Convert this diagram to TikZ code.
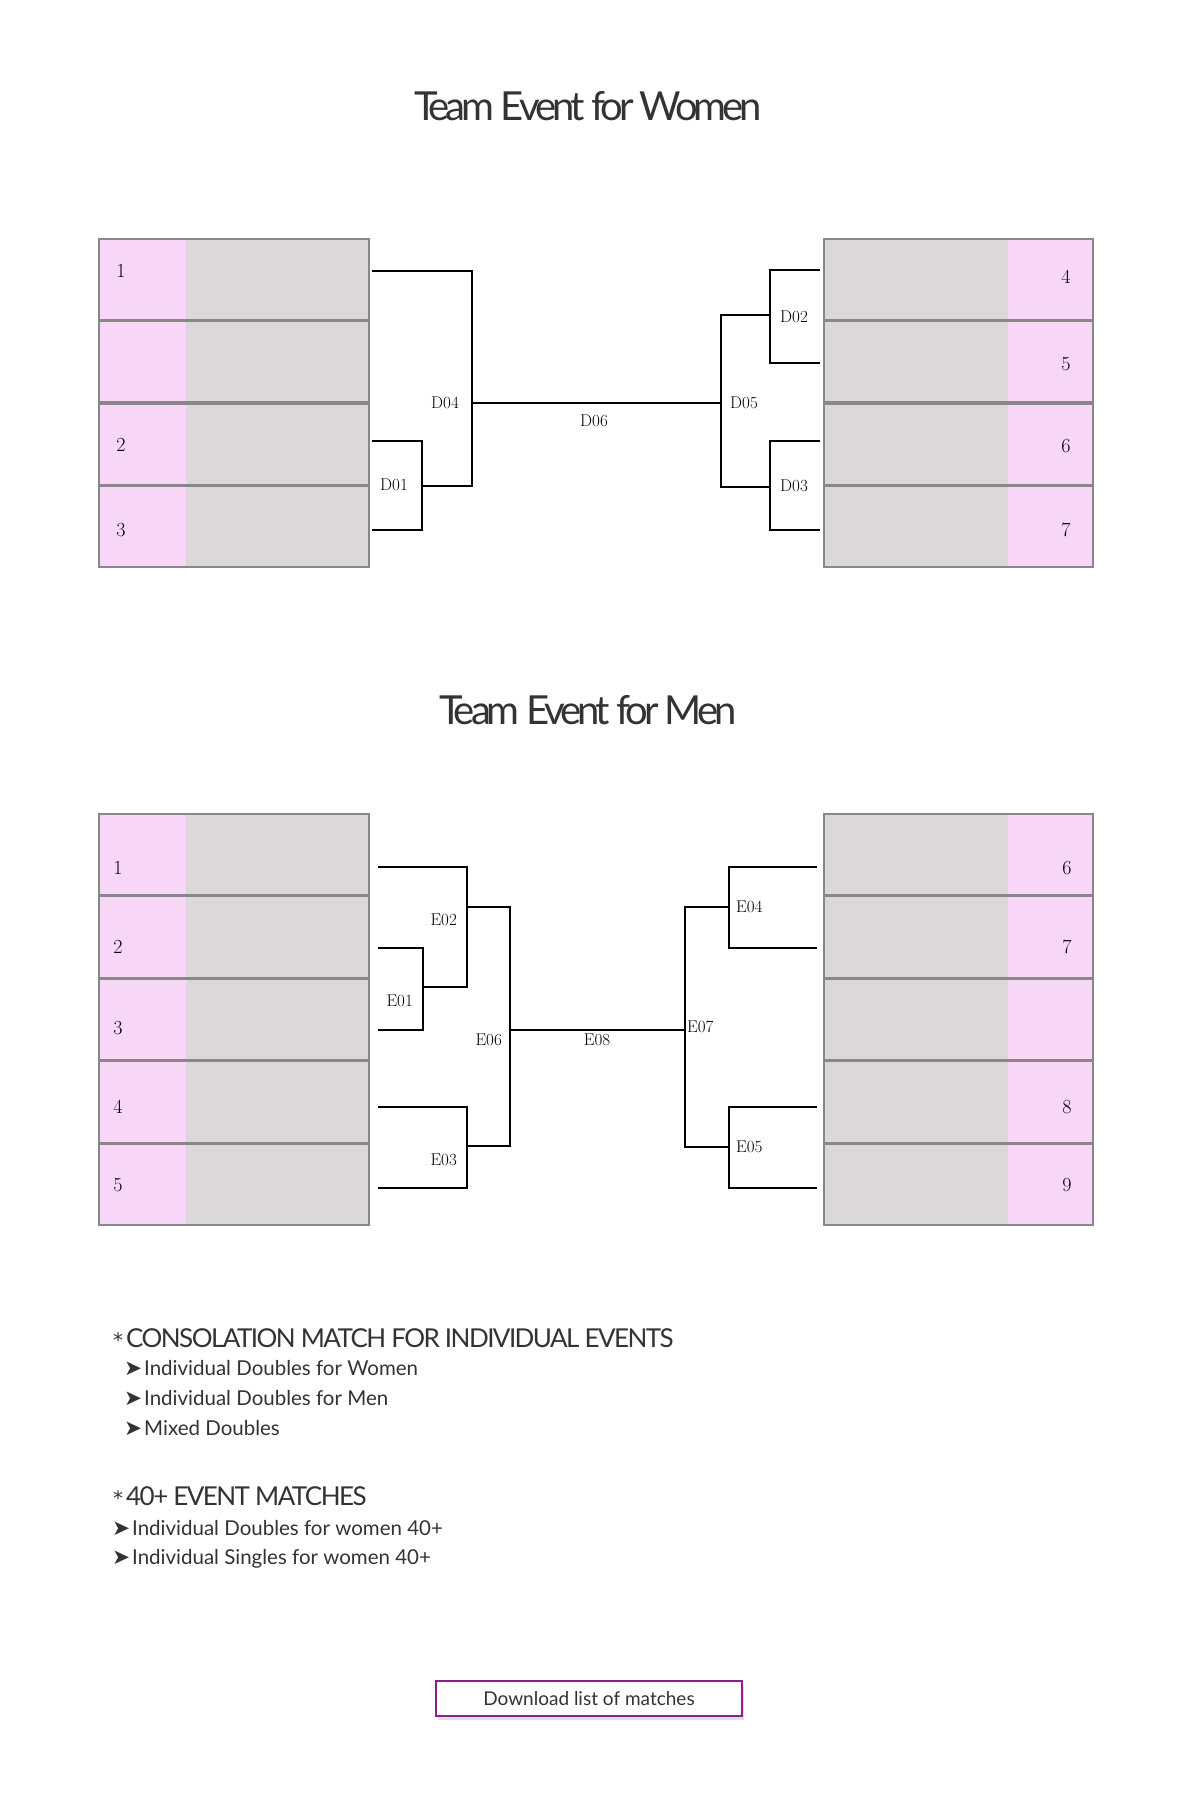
\documentclass[tikz,border=0pt]{standalone}
\usepackage{fontspec}
\setsansfont{Lato}
\newfontfamily\symfont{DejaVu Sans}
\newfontfamily\tightsans[LetterSpace=-10]{Lato}
\newfontfamily\notesans[LetterSpace=-6]{Lato}
\usepackage{tikz}
\usetikzlibrary{positioning,shadows}
\usepackage{xcolor}
\definecolor{seedpink}{HTML}{F8D6F8}
\definecolor{slotgray}{HTML}{DBD7DB}
\definecolor{framegray}{HTML}{888888}
\definecolor{inkgray}{HTML}{333333}
\definecolor{buttonpurple}{HTML}{8E1E8E}
\newcommand{\notestar}{{\symfont\fontsize{20}{20}\selectfont *}\hspace{3pt}}
\newcommand{\itemarrow}{\makebox[20pt][l]{\symfont\fontsize{21.5}{21.5}\selectfont ➤}}
\tikzset{
  heading/.style={font=\tightsans\fontsize{40}{40}\selectfont, text=inkgray, inner sep=0pt, anchor=base},
  seednum/.style={font=\fontsize{20}{20}\selectfont, inner sep=0pt},
  matchlbl/.style={font=\fontsize{17}{17}\selectfont, inner sep=0pt},
  bracket/.style={draw=black, line width=1.9pt},
  slotframe/.style={draw=framegray, line width=1.6pt},
  note/.style={font=\notesans\fontsize{26}{26}\selectfont, text=inkgray, inner sep=0pt, anchor=base west},
  noteitem/.style={font=\sffamily\fontsize{20.5}{20.5}\selectfont, text=inkgray, inner sep=0pt, anchor=base west},
  dlbutton/.style={draw=buttonpurple, line width=1.8pt, fill=white, minimum width=306pt, minimum height=35pt,
    font=\sffamily\fontsize{19}{19}\selectfont, text=inkgray,
    drop shadow={shadow xshift=2pt, shadow yshift=-4pt, opacity=0.25}}
}

\begin{document}
\begin{tikzpicture}[x=1pt,y=-1pt]
  \useasboundingbox (0,0) rectangle (1177,1800);
  \fill[white] (0,0) rectangle (1177,1800);

  % team event for women
  \node[heading] (womentitle) at (588,120) {Team Event for Women};
  \foreach \y in {238,320.5,403,485.5} {
    \fill[slotgray] (98,\y) rectangle (370,\y+82.5);
    \fill[seedpink] (98,\y) rectangle (186,\y+82.5);
    \draw[slotframe] (98.8,\y+0.8) rectangle (369.2,\y+81.7);
    \fill[slotgray] (823,\y) rectangle (1094,\y+82.5);
    \fill[seedpink] (1008,\y) rectangle (1094,\y+82.5);
    \draw[slotframe] (823.8,\y+0.8) rectangle (1093.2,\y+81.7);
  }
  \foreach \t/\y in {1/271,2/445,3/530} \node[seednum] (wseed\t) at (121,\y) {\t};
  \foreach \t/\y in {4/277,5/364,6/446,7/530} \node[seednum] (wseed\t) at (1066,\y) {\t};

  \coordinate (w1) at (372,271);
  \coordinate (w2) at (372,441);
  \coordinate (w3) at (372,530);
  \coordinate (w4) at (820,270);
  \coordinate (w5) at (820,363);
  \coordinate (w6) at (820,441);
  \coordinate (w7) at (820,530);
  \coordinate (d01) at (422,486);
  \coordinate (d04) at (472,403);
  \coordinate (d02) at (770,315);
  \coordinate (d03) at (770,487);
  \coordinate (d05) at (721,403);
  \draw[bracket] (w2) -| (d01) |- (w3);
  \draw[bracket] (w1) -| (d04) |- (d01);
  \draw[bracket] (w4) -| (d02) |- (w5);
  \draw[bracket] (w6) -| (d03) |- (w7);
  \draw[bracket] (d02) -| (d05) |- (d03);
  \draw[bracket] (d04) -- (d05);
  \node[matchlbl, anchor=east] at (408,485) {D01};
  \node[matchlbl, anchor=east] at (459,403) {D04};
  \node[matchlbl, anchor=west] at (780,317) {D02};
  \node[matchlbl, anchor=west] at (780,486) {D03};
  \node[matchlbl, anchor=west] at (730,403) {D05};
  \node[matchlbl] at (594,421) {D06};

  % team event for men
  \node[heading] (mentitle) at (588,724) {Team Event for Men};
  \foreach \y in {813,895.6,978.2,1060.8,1143.4} {
    \fill[slotgray] (98,\y) rectangle (370,\y+82.6);
    \fill[seedpink] (98,\y) rectangle (186,\y+82.6);
    \draw[slotframe] (98.8,\y+0.8) rectangle (369.2,\y+81.8);
    \fill[slotgray] (823,\y) rectangle (1094,\y+82.6);
    \fill[seedpink] (1008,\y) rectangle (1094,\y+82.6);
    \draw[slotframe] (823.8,\y+0.8) rectangle (1093.2,\y+81.8);
  }
  \foreach \t/\y in {1/868,2/947,3/1028,4/1107,5/1185} \node[seednum] (mseed\t) at (118,\y) {\t};
  \foreach \t/\y in {6/868,7/947,8/1107,9/1185} \node[seednum] (mseed\t) at (1067,\y) {\t};

  \coordinate (m1) at (378,867);
  \coordinate (m2) at (378,948);
  \coordinate (m3) at (378,1030);
  \coordinate (m4) at (378,1107);
  \coordinate (m5) at (378,1188);
  \coordinate (m6) at (817,867);
  \coordinate (m7) at (817,948);
  \coordinate (m8) at (817,1107);
  \coordinate (m9) at (817,1188);
  \coordinate (e01) at (423,987);
  \coordinate (e02) at (467,907);
  \coordinate (e03) at (467,1146);
  \coordinate (e06) at (510,1030);
  \coordinate (e07) at (685,1030);
  \coordinate (e04) at (729,907);
  \coordinate (e05) at (729,1147);
  \draw[bracket] (m2) -| (e01) |- (m3);
  \draw[bracket] (m1) -| (e02) |- (e01);
  \draw[bracket] (m4) -| (e03) |- (m5);
  \draw[bracket] (e02) -| (e06) |- (e03);
  \draw[bracket] (m6) -| (e04) |- (m7);
  \draw[bracket] (m8) -| (e05) |- (m9);
  \draw[bracket] (e04) -| (e07) |- (e05);
  \draw[bracket] (e06) -- (e07);
  \node[matchlbl, anchor=east] at (413,1001) {E01};
  \node[matchlbl, anchor=east] at (457,920) {E02};
  \node[matchlbl, anchor=east] at (457,1160) {E03};
  \node[matchlbl, anchor=east] at (502,1040) {E06};
  \node[matchlbl, anchor=west] at (736,907) {E04};
  \node[matchlbl, anchor=west] at (736,1147) {E05};
  \node[matchlbl, anchor=west] at (687,1027) {E07};
  \node[matchlbl] at (597,1040) {E08};

  % notes
  \node[note] (consol) at (113,1347) {\notestar CONSOLATION MATCH FOR INDIVIDUAL EVENTS};
  \node[noteitem] (consol1) at (124,1375) {\itemarrow Individual Doubles for Women};
  \node[noteitem] (consol2) at (124,1405) {\itemarrow Individual Doubles for Men};
  \node[noteitem] (consol3) at (124,1435) {\itemarrow Mixed Doubles};
  \node[note] (forty) at (113,1505) {\notestar 40+ EVENT MATCHES};
  \node[noteitem] (forty1) at (112,1535) {\itemarrow Individual Doubles for women 40+};
  \node[noteitem] (forty2) at (112,1564) {\itemarrow Individual Singles for women 40+};

  \node[dlbutton] (download) at (589,1698.5) {Download list of matches};
\end{tikzpicture}
\end{document}
